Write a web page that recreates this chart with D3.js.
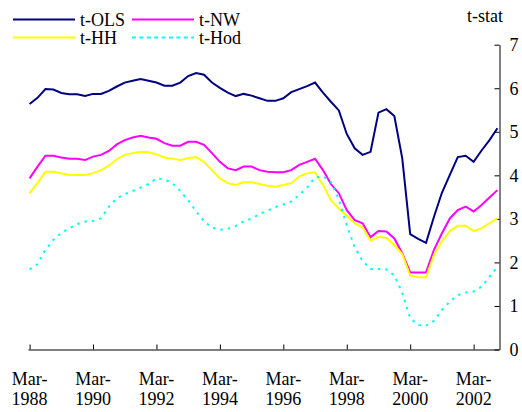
<!DOCTYPE html>
<html>
  <head>
    <meta charset="utf-8">
    <script src="https://d3js.org/d3.v7.min.js"></script>
    <style>
      body { margin: 0; background: #fff; }
      text {
        font-family: 'Liberation Serif', 'Times New Roman', serif;
        font-size: 18px;
        fill: #000;
      }
      .axis path, .axis line { stroke: #000; stroke-width: 1; }
    </style>
  </head>
  <body>
    <script>

      // quarterly observations, Mar-1988 .. Dec-2002
      var years = [1988, 1989, 1990, 1991, 1992, 1993, 1994, 1995,
                   1996, 1997, 1998, 1999, 2000, 2001, 2002];
      var months = ["Mar", "Jun", "Sep", "Dec"];
      var quarters = [];
      years.forEach(function(y) {
        months.forEach(function(m) { quarters.push(m + "-" + y); });
      });

      var tickLabels = ["Mar-1988", "Mar-1990", "Mar-1992", "Mar-1994",
                        "Mar-1996", "Mar-1998", "Mar-2000", "Mar-2002"];
      var yTicks = [0, 1, 2, 3, 4, 5, 6, 7];
      var seriesNames = ["t-OLS", "t-NW", "t-HH", "t-Hod"];

      var tOLS = [5.64, 5.78, 5.98, 5.97, 5.89, 5.86, 5.86, 5.82, 5.87, 5.87,
                  5.94, 6.04, 6.13, 6.17, 6.21, 6.17, 6.13, 6.06, 6.06, 6.13,
                  6.28, 6.35, 6.31, 6.13, 6.01, 5.90, 5.82, 5.87, 5.83, 5.77,
                  5.71, 5.71, 5.77, 5.91, 5.98, 6.05, 6.13, 5.90, 5.69, 5.49,
                  4.95, 4.62, 4.47, 4.54, 5.44, 5.52, 5.36, 4.39, 2.65, 2.54,
                  2.45, 3.05, 3.60, 4.01, 4.42, 4.45, 4.31, 4.57, 4.81, 5.08];

      var tNW = [3.93, 4.20, 4.45, 4.45, 4.41, 4.38, 4.38, 4.35, 4.43, 4.47,
                 4.56, 4.71, 4.81, 4.87, 4.91, 4.87, 4.84, 4.74, 4.68, 4.68,
                 4.77, 4.77, 4.70, 4.51, 4.31, 4.16, 4.12, 4.20, 4.20, 4.12,
                 4.08, 4.07, 4.07, 4.12, 4.24, 4.31, 4.38, 4.12, 3.80, 3.59,
                 3.20, 2.97, 2.90, 2.58, 2.72, 2.71, 2.55, 2.21, 1.77, 1.77,
                 1.77, 2.29, 2.67, 3.01, 3.20, 3.28, 3.17, 3.32, 3.49, 3.66];

      var tHH = [3.59, 3.82, 4.08, 4.08, 4.05, 4.01, 4.01, 4.01, 4.05, 4.12,
                 4.22, 4.37, 4.47, 4.51, 4.54, 4.53, 4.48, 4.41, 4.38, 4.35,
                 4.39, 4.42, 4.31, 4.12, 3.93, 3.82, 3.78, 3.84, 3.84, 3.80,
                 3.76, 3.74, 3.78, 3.82, 3.97, 4.05, 4.07, 3.78, 3.43, 3.24,
                 3.07, 2.90, 2.80, 2.50, 2.59, 2.56, 2.40, 2.19, 1.70, 1.66,
                 1.66, 2.17, 2.48, 2.72, 2.84, 2.84, 2.72, 2.78, 2.90, 3.01];

      var tHod = [1.84, 1.96, 2.29, 2.52, 2.68, 2.78, 2.88, 2.94, 2.95, 3.01,
                  3.28, 3.47, 3.57, 3.64, 3.72, 3.80, 3.93, 3.91, 3.82, 3.64,
                  3.43, 3.17, 2.95, 2.80, 2.75, 2.77, 2.84, 2.94, 3.01, 3.11,
                  3.19, 3.27, 3.33, 3.40, 3.55, 3.72, 3.95, 3.98, 3.85, 3.45,
                  2.85, 2.35, 2.03, 1.85, 1.85, 1.84, 1.70, 1.30, 0.72, 0.56,
                  0.55, 0.66, 0.91, 1.10, 1.25, 1.31, 1.33, 1.44, 1.67, 1.90];

      // setup
      var w = 522, h = 412;
      var styles = [
        { color: "#000080", dash: null,    legendDash: null },
        { color: "#ff00ff", dash: null,    legendDash: null },
        { color: "#ffff00", dash: null,    legendDash: null },
        { color: "#00ffff", dash: "2.5,5", legendDash: "4,3.4" }
      ];
      var seriesData = [tOLS, tNW, tHH, tHod];

      var svg = d3.select("body").append("svg")
          .attr("width", w)
          .attr("height", h);

      var xScale = d3.scaleLinear()
          .domain([-0.2, quarters.length - 0.8])
          .range([28, 499]);
      var yScale = d3.scaleLinear().domain([0, 7]).range([349.5, 44.7]);

      // x axis, ticks every 8 quarters pointing up
      var tickIdx = tickLabels.map(function(l) { return quarters.indexOf(l); });
      svg.append("g")
          .attr("class", "axis")
          .attr("transform", "translate(0,349.5)")
          .call(d3.axisBottom(xScale)
              .tickValues(tickIdx)
              .tickSizeInner(-5)
              .tickSizeOuter(0)
              .tickFormat(""));

      var xl = svg.append("g").selectAll("text")
          .data(tickLabels)
          .enter().append("text")
          .attr("text-anchor", "middle");
      xl.append("tspan")
          .attr("x", function(d, i) { return xScale(tickIdx[i]); })
          .attr("y", 385)
          .text(function(d) { return d.split("-")[0] + "-"; });
      xl.append("tspan")
          .attr("x", function(d, i) { return xScale(tickIdx[i]); })
          .attr("y", 405)
          .text(function(d) { return d.split("-")[1]; });

      // y axis on the right
      var yAxisG = svg.append("g")
          .attr("class", "axis")
          .attr("transform", "translate(499.5,0)")
          .call(d3.axisRight(yScale)
              .tickValues(yTicks)
              .tickSizeInner(-5)
              .tickSizeOuter(0)
              .tickPadding(10)
              .tickFormat(d3.format("d")));
      yAxisG.attr("font-family", null).attr("font-size", null);
      yAxisG.selectAll("text")
          .attr("font-family", "Liberation Serif")
          .attr("font-size", 18);

      svg.append("text")
          .attr("x", 467)
          .attr("y", 22)
          .text("t-stat");

      // series lines
      var line = d3.line()
          .x(function(d, i) { return xScale(i); })
          .y(function(d) { return yScale(d); });

      svg.append("g").selectAll("path")
          .data(seriesData)
          .enter().append("path")
          .attr("d", line)
          .attr("fill", "none")
          .attr("stroke", function(d, i) { return styles[i].color; })
          .attr("stroke-width", 2)
          .attr("stroke-dasharray", function(d, i) { return styles[i].dash; });

      // legend, 2 x 2
      var legend = svg.append("g").selectAll("g")
          .data(seriesNames)
          .enter().append("g")
          .attr("transform", function(d, i) {
            return "translate(" + (13 + (i % 2) * 119) + "," + (19.5 + Math.floor(i / 2) * 18) + ")";
          });
      legend.append("line")
          .attr("x1", 0).attr("x2", 62)
          .attr("stroke", function(d, i) { return styles[i].color; })
          .attr("stroke-width", 2)
          .attr("stroke-dasharray", function(d, i) { return styles[i].legendDash; });
      legend.append("text")
          .attr("x", 67)
          .attr("y", 6)
          .text(function(d) { return d; });

    </script>
  </body>
</html>
